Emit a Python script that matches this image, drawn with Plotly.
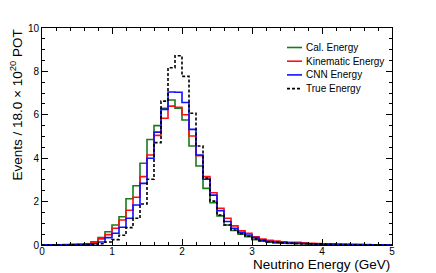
import plotly.graph_objects as go

# ---- data ----
bin_edges = [round(0.1 * i, 1) for i in range(51)]
cal_energy = [0.00, 0.01, 0.01, 0.01, 0.02, 0.03, 0.05, 0.15, 0.34, 0.61,
              0.92, 1.30, 2.13, 2.73, 3.77, 4.86, 5.50, 6.30, 6.68, 6.30,
              5.76, 4.56, 3.64, 2.61, 1.95, 1.34, 0.92, 0.67, 0.50, 0.38,
              0.25, 0.18, 0.13, 0.10, 0.08, 0.07, 0.06, 0.05, 0.04, 0.04,
              0.03, 0.03, 0.02, 0.02, 0.02, 0.01, 0.01, 0.01, 0.01, 0.01]
kin_energy = [0.01, 0.01, 0.01, 0.02, 0.02, 0.03, 0.04, 0.13, 0.28, 0.48,
              0.77, 1.15, 1.60, 2.20, 3.15, 4.15, 5.05, 5.84, 6.40, 6.35,
              6.00, 5.02, 4.12, 3.15, 2.41, 1.69, 1.23, 0.88, 0.66, 0.54,
              0.38, 0.27, 0.22, 0.18, 0.15, 0.13, 0.12, 0.10, 0.08, 0.07,
              0.05, 0.04, 0.03, 0.03, 0.02, 0.02, 0.02, 0.01, 0.01, 0.01]
cnn_energy = [0.01, 0.01, 0.01, 0.01, 0.02, 0.02, 0.03, 0.06, 0.14, 0.34,
              0.54, 0.82, 1.23, 1.84, 2.84, 4.00, 5.20, 6.25, 7.05, 7.04,
              6.57, 5.33, 4.15, 3.03, 2.30, 1.58, 1.08, 0.77, 0.58, 0.46,
              0.34, 0.22, 0.16, 0.13, 0.11, 0.09, 0.08, 0.07, 0.06, 0.05,
              0.04, 0.03, 0.03, 0.02, 0.02, 0.02, 0.01, 0.01, 0.01, 0.01]
true_energy = [0.00, 0.00, 0.00, 0.00, 0.01, 0.01, 0.02, 0.03, 0.06, 0.14,
               0.25, 0.45, 0.80, 1.23, 1.89, 3.03, 4.72, 6.63, 8.17, 8.72,
               7.77, 6.07, 4.56, 3.08, 2.02, 1.38, 0.92, 0.69, 0.52, 0.40,
               0.28, 0.20, 0.15, 0.12, 0.10, 0.08, 0.07, 0.06, 0.05, 0.04,
               0.03, 0.03, 0.02, 0.02, 0.01, 0.01, 0.01, 0.01, 0.01, 0.00]
series_names = ["Cal. Energy", "Kinematic Energy", "CNN Energy", "True Energy"]
x_ticks = [0, 1, 2, 3, 4, 5]
y_ticks = [0, 2, 4, 6, 8, 10]

series = [cal_energy, kin_energy, cnn_energy, true_energy]
colors = ["#1a7a1a", "#ff1010", "#1010ff", "#000000"]
dashes = ["solid", "solid", "solid", "3px,2px"]

W, H = 436, 273
L, R, T, B = 42, 44, 28, 28
FONT = "Liberation Sans, Arial, Helvetica, sans-serif"

fig = go.Figure()
for vals, name, col, dsh in zip(series, series_names, colors, dashes):
    fig.add_trace(go.Scatter(
        x=bin_edges, y=vals + [vals[-1]], mode="lines", name=name,
        line=dict(color=col, width=1.6, dash=dsh, shape="hv"),
        showlegend=False, hoverinfo="skip"))

axis_common = dict(
    showgrid=False, zeroline=False, showline=True, linecolor="black",
    linewidth=1, mirror="allticks", ticks="inside", ticklen=6,
    tickcolor="black", tickwidth=1,
    tickfont=dict(family=FONT, size=10, color="black"),
)
fig.update_xaxes(range=[0, 5], tickvals=x_ticks, ticklabelstandoff=-3,
                 minor=dict(dtick=0.2, ticks="inside", ticklen=3,
                            tickcolor="black", showgrid=False),
                 **axis_common)
fig.update_yaxes(range=[0, 10], tickvals=y_ticks,
                 minor=dict(dtick=0.5, ticks="inside", ticklen=3,
                            tickcolor="black", showgrid=False),
                 **axis_common)

plot_w = W - L - R
plot_h = H - T - B

def px_x(p):
    return (p - L) / plot_w

def px_y(p):
    return (H - B - p) / plot_h

annotations = [
    dict(text="Neutrino Energy (GeV)", xref="paper", yref="paper",
         x=1, y=0, xanchor="right", yanchor="top", yshift=-10,
         showarrow=False, font=dict(family=FONT, size=13.5, color="black")),
    dict(text="Events / 18.0 \u00d7 10<sup>20</sup> POT", xref="paper",
         yref="paper", x=0, y=1, xshift=-26, xanchor="center",
         yanchor="top", textangle=-90, showarrow=False,
         font=dict(family=FONT, size=13.5, color="black")),
]
shapes = []
legend_y = [47.5, 61.2, 74.9, 88.6]
for name, col, dsh, py in zip(series_names, colors, dashes, legend_y):
    shapes.append(dict(type="line", xref="paper", yref="paper",
                       x0=px_x(287), x1=px_x(302), y0=px_y(py), y1=px_y(py),
                       line=dict(color=col, width=1.6, dash=dsh)))
    annotations.append(dict(text=name, xref="paper", yref="paper",
                            x=px_x(304), y=px_y(py), xanchor="left",
                            yanchor="middle", showarrow=False,
                            font=dict(family=FONT, size=10, color="black")))

fig.update_layout(
    width=W, height=H, margin=dict(l=L, r=R, t=T, b=B, autoexpand=False),
    paper_bgcolor="white", plot_bgcolor="white",
    annotations=annotations, shapes=shapes, showlegend=False,
)
fig.write_html("out.html", include_plotlyjs=True, full_html=True,
               config={"displayModeBar": False},
               post_script="document.body.style.margin='0';document.body.style.padding='0';")
